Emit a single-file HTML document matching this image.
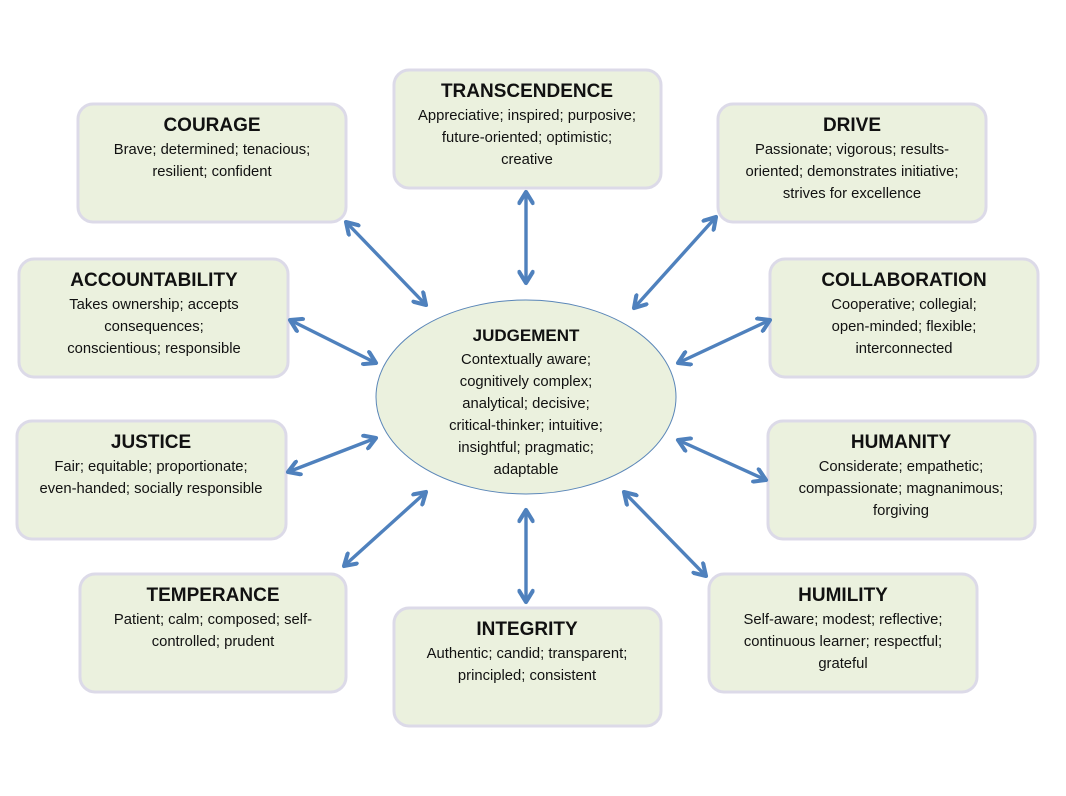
<!DOCTYPE html>
<html><head><meta charset="utf-8"><style>
html,body{margin:0;padding:0;background:#fff;}
svg{display:block;}
text{font-family:"Liberation Sans",sans-serif;fill:#111;text-anchor:middle;}
.t{font-weight:bold;font-size:19px;}
.b{font-size:14.8px;}
</style></head><body>
<svg width="1066" height="796" viewBox="0 0 1066 796" xmlns="http://www.w3.org/2000/svg">
<defs>
<marker id="a" viewBox="0 0 10 10" refX="8" refY="5" markerWidth="5" markerHeight="5" orient="auto-start-reverse">
<path d="M1.5,1 L8,5 L1.5,9" fill="none" stroke="#4f81bd" stroke-width="2.4" stroke-linecap="round" stroke-linejoin="round"/>
</marker>
</defs>
<g fill="#ebf1de" stroke="#dcdae8" stroke-width="3">
<rect x="78" y="104" width="268" height="118" rx="15"/>
<rect x="394" y="70" width="267" height="118" rx="15"/>
<rect x="718" y="104" width="268" height="118" rx="15"/>
<rect x="19" y="259" width="269" height="118" rx="15"/>
<rect x="770" y="259" width="268" height="118" rx="15"/>
<rect x="17" y="421" width="269" height="118" rx="15"/>
<rect x="768" y="421" width="267" height="118" rx="15"/>
<rect x="80" y="574" width="266" height="118" rx="15"/>
<rect x="394" y="608" width="267" height="118" rx="15"/>
<rect x="709" y="574" width="268" height="118" rx="15"/>
</g>
<ellipse cx="526" cy="397" rx="150" ry="97" fill="#ebf1de" stroke="#5a86b8" stroke-width="1"/>
<g stroke="#4f81bd" stroke-width="3.4" marker-start="url(#a)" marker-end="url(#a)">
<line x1="346" y1="222" x2="426" y2="305"/>
<line x1="526" y1="192" x2="526" y2="283"/>
<line x1="716" y1="217" x2="634" y2="308"/>
<line x1="290" y1="320" x2="376" y2="363"/>
<line x1="770" y1="320" x2="678" y2="363"/>
<line x1="288" y1="472" x2="376" y2="438"/>
<line x1="678" y1="440" x2="766" y2="480"/>
<line x1="344" y1="566" x2="426" y2="492"/>
<line x1="526" y1="510" x2="526" y2="602"/>
<line x1="624" y1="492" x2="706" y2="576"/>
</g>
<text class="t" x="212" y="131">COURAGE</text>
<text class="b" x="212" y="154">Brave; determined; tenacious;</text>
<text class="b" x="212" y="176">resilient; confident</text>

<text class="t" x="527" y="97">TRANSCENDENCE</text>
<text class="b" x="527" y="120">Appreciative; inspired; purposive;</text>
<text class="b" x="527" y="142">future-oriented; optimistic;</text>
<text class="b" x="527" y="164">creative</text>

<text class="t" x="852" y="131">DRIVE</text>
<text class="b" x="852" y="154">Passionate; vigorous; results-</text>
<text class="b" x="852" y="176">oriented; demonstrates initiative;</text>
<text class="b" x="852" y="198">strives for excellence</text>

<text class="t" x="154" y="286">ACCOUNTABILITY</text>
<text class="b" x="154" y="309">Takes ownership; accepts</text>
<text class="b" x="154" y="331">consequences;</text>
<text class="b" x="154" y="353">conscientious; responsible</text>

<text class="t" x="904" y="286">COLLABORATION</text>
<text class="b" x="904" y="309">Cooperative; collegial;</text>
<text class="b" x="904" y="331">open-minded; flexible;</text>
<text class="b" x="904" y="353">interconnected</text>

<text class="t" x="151" y="448">JUSTICE</text>
<text class="b" x="151" y="471">Fair; equitable; proportionate;</text>
<text class="b" x="151" y="493">even-handed; socially responsible</text>

<text class="t" x="901" y="448">HUMANITY</text>
<text class="b" x="901" y="471">Considerate; empathetic;</text>
<text class="b" x="901" y="493">compassionate; magnanimous;</text>
<text class="b" x="901" y="515">forgiving</text>

<text class="t" x="213" y="601">TEMPERANCE</text>
<text class="b" x="213" y="624">Patient; calm; composed; self-</text>
<text class="b" x="213" y="646">controlled; prudent</text>

<text class="t" x="527" y="635">INTEGRITY</text>
<text class="b" x="527" y="658">Authentic; candid; transparent;</text>
<text class="b" x="527" y="680">principled; consistent</text>

<text class="t" x="843" y="601">HUMILITY</text>
<text class="b" x="843" y="624">Self-aware; modest; reflective;</text>
<text class="b" x="843" y="646">continuous learner; respectful;</text>
<text class="b" x="843" y="668">grateful</text>

<text style="font-weight:bold;font-size:17px" x="526" y="341">JUDGEMENT</text>
<text class="b" x="526" y="364">Contextually aware;</text>
<text class="b" x="526" y="386">cognitively complex;</text>
<text class="b" x="526" y="408">analytical; decisive;</text>
<text class="b" x="526" y="430">critical-thinker; intuitive;</text>
<text class="b" x="526" y="452">insightful; pragmatic;</text>
<text class="b" x="526" y="474">adaptable</text>
</svg>
</body></html>
